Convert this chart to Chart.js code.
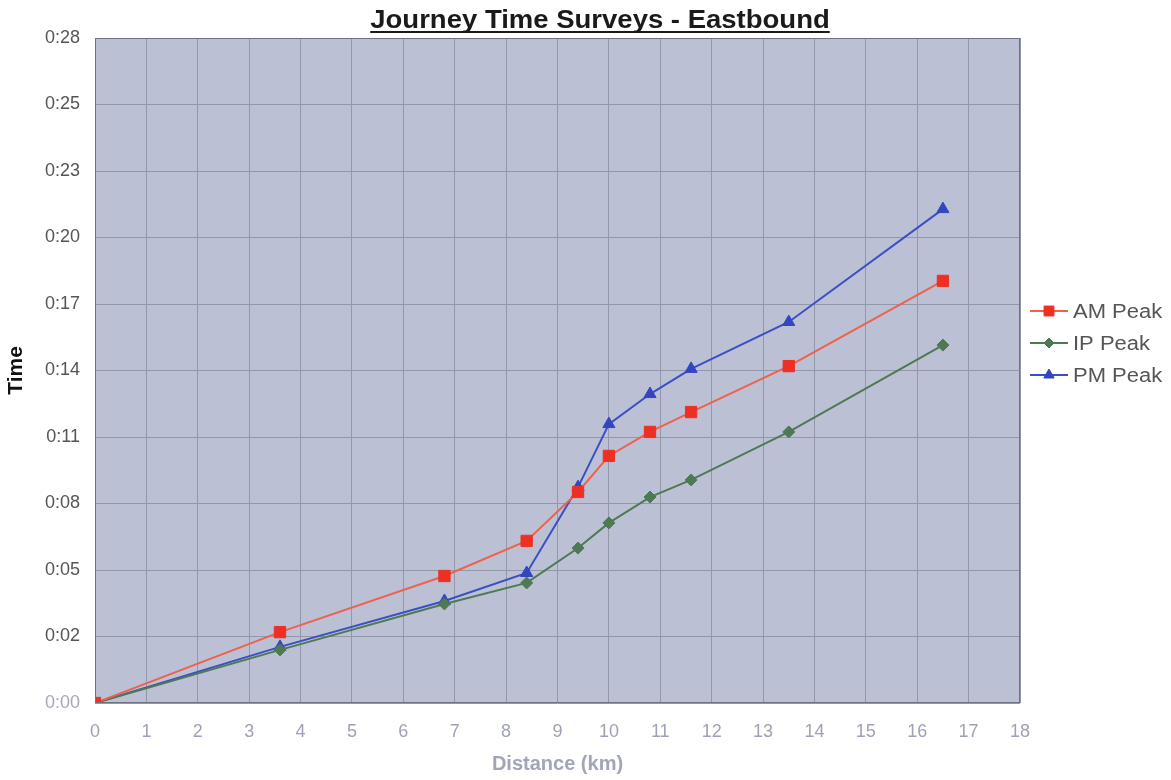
<!DOCTYPE html>
<html>
<head>
<meta charset="utf-8">
<title>Journey Time Surveys - Eastbound</title>
<script src="https://cdn.jsdelivr.net/npm/chart.js@4/dist/chart.umd.min.js"></script>
<style>
  html, body { margin: 0; padding: 0; background: #fff; }
  #wrap { width: 1171px; height: 780px; position: relative; }
</style>
</head>
<body>
<div id="wrap"><canvas id="jtChart"></canvas></div>
<script>
// distance along the route (km) and journey time (minutes)
const DISTANCE = [0, 3.6, 6.8, 8.4, 9.4, 10, 10.8, 11.6, 13.5, 16.5];
const AM_PEAK = [0, 3.07, 5.50, 7.02, 9.14, 10.70, 11.74, 12.60, 14.59, 18.28];
const IP_PEAK = [0, 2.30, 4.29, 5.20, 6.71, 7.80, 8.92, 9.66, 11.74, 15.50];
const PM_PEAK = [0, 2.43, 4.42, 5.63, 9.35, 12.08, 13.38, 14.47, 16.50, 21.39];

// time axis steps are 0.002 of a day, shown as h:mm
const TIME_TICKS = [0, 2.88, 5.76, 8.64, 11.52, 14.4, 17.28, 20.16, 23.04, 25.92, 28.8];

const FONT = 'Arial, "Liberation Sans", sans-serif';

function toPoints(ys) { return DISTANCE.map((x, i) => ({ x, y: ys[i] })); }
function fmtTime(m) {
    const mins = Math.floor(m + 1e-6);
    return Math.floor(mins / 60) + ':' + String(mins % 60).padStart(2, '0');
}

const series = [
    { label: 'AM Peak', data: AM_PEAK, line: '#f0604c', fill: '#ee3024', style: 'rect', r: 8 },
    { label: 'IP Peak', data: IP_PEAK, line: '#4d7a52', fill: '#4d7a52', style: 'rectRot', r: 6 },
    { label: 'PM Peak', data: PM_PEAK, line: '#3b4fc4', fill: '#3346c0', style: 'triangle', r: 7 }
];

// plot background, border, title and legend
const decor = {
    id: 'decor',
    beforeDraw(chart) {
        const { ctx, chartArea: a } = chart;
        ctx.save();
        ctx.fillStyle = '#bcc0d4';
        ctx.fillRect(a.left, a.top, a.right - a.left, a.bottom - a.top);
        ctx.restore();
    },
    afterDraw(chart) {
        const { ctx, chartArea: a } = chart;
        ctx.save();
        ctx.strokeStyle = '#6e7180';
        ctx.lineWidth = 1;
        ctx.strokeRect(a.left + 0.5, a.top + 0.5, a.right - a.left - 1, a.bottom - a.top - 1);

        // title, slightly wide, underlined
        const title = 'Journey Time Surveys - Eastbound';
        ctx.save();
        ctx.translate(600, 28);
        ctx.scale(1.1, 1);
        ctx.font = 'bold 25px ' + FONT;
        ctx.fillStyle = '#1a1a1a';
        ctx.textAlign = 'center';
        ctx.textBaseline = 'alphabetic';
        ctx.fillText(title, 0, 0);
        const w = ctx.measureText(title).width;
        ctx.fillRect(-w / 2, 3, w, 2);
        ctx.restore();

        // legend
        chart.data.datasets.forEach((ds, i) => {
            const y = 311 + i * 32;
            ctx.strokeStyle = ds.borderColor;
            ctx.lineWidth = 2;
            ctx.beginPath();
            ctx.moveTo(1030, y);
            ctx.lineTo(1068, y);
            ctx.stroke();
            ctx.fillStyle = ds.pointBackgroundColor;
            ctx.strokeStyle = ds.pointBorderColor;
            ctx.lineWidth = 1;
            Chart.helpers.drawPoint(ctx, {
                pointStyle: ds.pointStyle, radius: ds.pointRadius - 1, rotation: 0, borderWidth: 1
            }, 1049, y);
            ctx.save();
            ctx.translate(1073, y + 1);
            ctx.scale(1.1, 1);
            ctx.font = '20px ' + FONT;
            ctx.textAlign = 'left';
            ctx.textBaseline = 'middle';
            ctx.fillStyle = '#555';
            ctx.fillText(ds.label, 0, 0);
            ctx.restore();
        });
        ctx.restore();
    }
};

new Chart(document.getElementById('jtChart'), {
    type: 'line',
    data: {
        datasets: series.map(s => ({
            label: s.label,
            data: toPoints(s.data),
            borderColor: s.line,
            borderWidth: 2,
            pointStyle: s.style,
            pointRadius: s.r,
            pointBackgroundColor: s.fill,
            pointBorderColor: s.fill,
            pointBorderWidth: 1,
            tension: 0
        }))
    },
    options: {
        responsive: true,
        maintainAspectRatio: false,
        animation: false,
        layout: { padding: { top: 38, right: 151, left: 0, bottom: 0 } },
        plugins: { legend: { display: false }, title: { display: false }, tooltip: { enabled: false } },
        scales: {
            x: {
                type: 'linear', min: 0, max: 18,
                ticks: { stepSize: 1, color: '#9fa2b6', font: { family: FONT, size: 18 }, padding: 18 },
                grid: { color: '#9397aa', lineWidth: 1, drawTicks: false },
                border: { display: false },
                title: { display: true, text: 'Distance (km)', color: '#a2a5b9', font: { family: FONT, size: 20, weight: 'bold' }, padding: { top: 2 } },
                afterFit(scale) { scale.height = 77; }
            },
            y: {
                type: 'linear', min: 0, max: 28.8,
                afterBuildTicks(scale) { scale.ticks = TIME_TICKS.map(v => ({ value: v })); },
                ticks: {
                    callback: v => fmtTime(v),
                    color: ctx => ctx.tick && ctx.tick.value === 0 ? '#a6a8ba' : '#555',
                    font: { family: FONT, size: 18 }, padding: 15
                },
                grid: { color: '#9397aa', lineWidth: 1, drawTicks: false },
                border: { display: false },
                title: { display: true, text: 'Time', color: '#111', font: { family: FONT, size: 21, weight: 'bold' }, padding: { bottom: 6 } },
                afterFit(scale) { scale.width = 95; }
            }
        }
    },
    plugins: [decor]
});
</script>
</body>
</html>
